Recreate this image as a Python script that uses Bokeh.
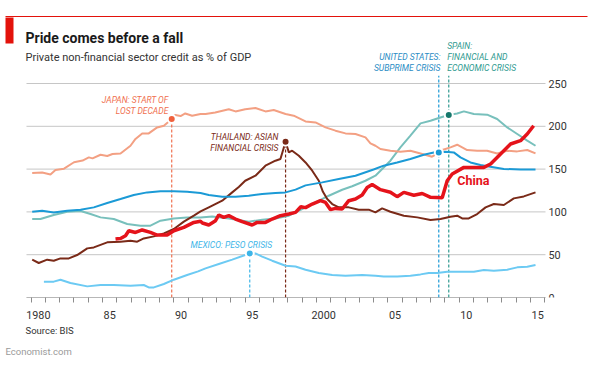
from bokeh.plotting import figure
from bokeh.models import Range1d, FixedTicker, Label, BoxAnnotation, CustomJSTickFormatter, Title
from bokeh.core.properties import value
from bokeh.embed import file_html
from bokeh.resources import INLINE

# ---------------- data ----------------
japan_x = [1980.07, 1980.77, 1981.35, 1981.7, 1982.3, 1983.0, 1983.6, 1984.04, 1984.3, 1984.86,
           1985.33, 1985.7, 1986.26, 1986.96, 1987.31, 1987.78, 1988.24, 1988.83, 1989.3, 1989.65,
           1989.85, 1990.1, 1990.47, 1990.8, 1991.28, 1991.87, 1992.22, 1992.9, 1993.85, 1994.32,
           1995.0, 1995.72, 1996.42, 1997.0, 1997.83, 1998.4, 1999.23, 1999.93, 2000.63, 2001.33,
           2002.03, 2002.73, 2003.43, 2003.78, 2004.13, 2004.48, 2005.18, 2005.88, 2006.58, 2007.29,
           2008.1, 2008.34, 2008.81, 2009.39, 2009.86, 2010.56, 2011.26, 2011.96, 2012.66, 2013.37,
           2014.07, 2014.77, 2015.35]
japan_y = [145.4, 146.0, 143.8, 149.0, 150.5, 158.0, 160.0, 163.7, 162.5, 166.8,
           165.3, 167.6, 168.3, 177.3, 185.2, 191.7, 191.7, 198.7, 200.7, 205.7,
           208.5, 213.2, 212.0, 215.0, 212.4, 214.4, 214.4, 216.2, 220.0, 217.4,
           220.0, 221.4, 217.4, 219.0, 214.4, 212.4, 205.7, 204.5, 198.7, 194.9,
           191.7, 191.0, 187.0, 180.0, 177.3, 173.5, 171.5, 170.3, 171.5, 168.3,
           164.5, 166.8, 172.3, 175.4, 178.5, 172.3, 171.5, 171.5, 168.3, 171.5,
           170.7, 172.3, 168.3]

thai_x = [1980.07, 1980.53, 1981.12, 1981.58, 1982.05, 1982.64, 1983.22, 1983.93, 1984.39, 1985.33,
          1986.26, 1986.96, 1987.43, 1987.89, 1988.6, 1989.3, 1990.0, 1990.7, 1991.4, 1991.87,
          1992.45, 1993.39, 1994.09, 1994.55, 1995.0, 1995.72, 1996.42, 1997.12, 1997.47, 1997.83,
          1998.06, 1998.29, 1998.76, 1999.23, 1999.7, 2000.16, 2000.45, 2000.75, 2001.1, 2001.56,
          2002.26, 2002.96, 2003.66, 2004.13, 2004.6, 2005.18, 2006.12, 2007.06, 2007.99, 2008.69,
          2009.39, 2009.86, 2010.21, 2010.67, 2011.26, 2011.85, 2012.43, 2013.13, 2013.83, 2014.53,
          2015.35]
thai_y = [44.2, 40.3, 44.2, 43.0, 45.7, 45.7, 49.6, 57.4, 58.5, 64.4,
          65.2, 66.4, 65.2, 69.0, 71.4, 74.9, 80.0, 88.6, 95.6, 100.5,
          105.3, 113.1, 122.8, 129.0, 136.4, 142.3, 154.0, 159.8, 161.8, 182.0,
          169.5, 171.5, 165.6, 157.8, 148.1, 136.4, 123.5, 115.0, 109.2, 105.3,
          105.3, 102.6, 102.6, 99.4, 104.1, 100.2, 95.6, 93.6, 90.5, 91.7,
          94.4, 95.6, 92.4, 92.4, 97.5, 105.3, 109.2, 108.1, 115.8, 118.1,
          122.8]

us_x = [1980.07, 1980.77, 1981.58, 1982.52, 1983.46, 1984.39, 1985.33, 1986.26, 1987.19, 1988.13,
        1989.06, 1990.0, 1990.93, 1991.87, 1992.45, 1993.39, 1994.32, 1995.25, 1996.19, 1997.12,
        1997.83, 1998.53, 1999.23, 2000.4, 2001.56, 2002.73, 2004.0, 2004.71, 2005.65, 2006.58,
        2007.52, 2008.22, 2008.57, 2009.04, 2009.62, 2010.09, 2010.79, 2011.49, 2012.19, 2013.13,
        2014.3, 2015.35]
us_y = [100.2, 101.4, 99.4, 101.4, 102.6, 105.3, 110.4, 115.0, 119.7, 122.8,
        124.0, 124.0, 123.6, 122.0, 119.7, 117.8, 117.8, 118.9, 120.9, 122.0,
        122.8, 126.0, 131.0, 134.5, 138.4, 142.3, 149.5, 154.0, 157.8, 161.8,
        166.8, 169.5, 169.5, 170.3, 169.5, 163.7, 157.8, 154.8, 152.8, 150.1,
        149.6, 149.6]

spain_x = [1980.07, 1980.65, 1981.58, 1982.52, 1983.46, 1984.16, 1984.86, 1985.79, 1986.73, 1987.66,
           1988.36, 1989.06, 1990.0, 1990.93, 1991.87, 1992.69, 1993.85, 1995.25, 1996.19, 1997.12,
           1998.06, 1998.99, 1999.93, 2000.86, 2001.8, 2002.5, 2003.43, 2004.13, 2004.48, 2005.18,
           2005.88, 2006.58, 2007.29, 2007.99, 2008.57, 2009.25, 2009.86, 2010.33, 2011.03, 2011.96,
           2012.66, 2013.37, 2014.07, 2014.77, 2015.35]
spain_y = [91.7, 91.7, 96.4, 100.2, 101.0, 97.5, 93.6, 91.7, 85.9, 83.9,
           83.9, 89.7, 92.4, 93.6, 93.6, 94.7, 92.4, 88.6, 90.9, 92.4,
           95.6, 103.4, 111.1, 118.9, 125.9, 130.0, 136.4, 142.3, 148.0, 159.8,
           175.4, 189.0, 203.4, 206.5, 209.7, 213.2, 215.0, 217.4, 214.4, 213.6,
           208.5, 198.7, 191.0, 183.2, 177.3]

mexico_x = [1980.89, 1981.58, 1982.05, 1982.75, 1983.93, 1984.86, 1985.79, 1986.96, 1987.89, 1988.24,
            1988.6, 1989.3, 1990.0, 1990.93, 1991.7, 1992.22, 1993.15, 1994.09, 1995.0, 1995.32,
            1995.72, 1996.19, 1996.89, 1997.83, 1998.53, 1999.23, 2000.16, 2001.1, 2002.03, 2003.2,
            2004.13, 2004.71, 2005.65, 2006.58, 2007.29, 2007.87, 2008.46, 2009.16, 2010.09, 2011.03,
            2011.73, 2012.43, 2013.37, 2014.07, 2014.77, 2015.35]
mexico_y = [18.5, 18.5, 20.8, 16.9, 13.0, 14.6, 14.6, 13.8, 14.6, 11.8,
            11.8, 15.8, 20.8, 26.3, 30.5, 34.0, 39.1, 44.2, 49.6, 51.5,
            51.5, 47.7, 43.0, 37.1, 36.3, 32.5, 28.6, 26.3, 25.5, 26.3,
            25.5, 24.6, 24.6, 25.5, 27.0, 28.6, 28.6, 30.1, 30.1, 30.1,
            32.1, 31.3, 32.5, 35.2, 36.0, 38.0]

china_x = [1985.91, 1986.26, 1986.61, 1986.84, 1987.31, 1987.78, 1988.36, 1988.83, 1989.53, 1990.0,
           1990.7, 1991.4, 1991.87, 1992.0, 1992.45, 1992.92, 1993.15, 1993.5, 1993.85, 1994.32,
           1994.79, 1995.49, 1995.84, 1996.42, 1996.89, 1997.47, 1998.06, 1998.53, 1998.9, 1999.23,
           1999.7, 2000.28, 2000.63, 2000.98, 2001.33, 2001.8, 2002.26, 2002.73, 2003.2, 2003.55,
           2003.9, 2004.48, 2005.18, 2005.65, 2006.12, 2006.82, 2007.41, 2008.0, 2008.81, 2009.16,
           2009.51, 2010.33, 2011.03, 2011.73, 2012.2, 2012.9, 2013.6, 2014.3, 2014.77, 2015.22]
china_y = [68.3, 69.0, 72.2, 78.0, 76.0, 78.9, 76.0, 73.0, 73.0, 78.0,
           81.9, 87.7, 89.0, 87.0, 84.7, 89.7, 96.4, 93.6, 95.6, 91.7,
           88.6, 84.7, 87.7, 87.7, 91.7, 95.6, 97.5, 99.4, 106.0, 105.0,
           109.2, 113.1, 111.1, 102.6, 104.1, 103.4, 113.1, 115.0, 119.7, 128.6,
           132.0, 126.0, 123.0, 117.8, 122.8, 119.5, 121.5, 117.0, 116.5, 136.4,
           144.3, 152.0, 152.0, 152.0, 156.0, 167.6, 179.3, 183.2, 191.0, 200.7]

# crisis markers: year, value of the dot, top of the dashed line
crisis_names = ["Japan", "Thailand", "Mexico", "United States", "Spain"]
crisis_x = [1989.85, 1997.83, 1995.32, 2008.57, 2009.27]
crisis_y = [208.5, 182.0, 51.5, 169.5, 213.2]
crisis_top = [208.5, 182.0, 51.5, 259.0, 259.0]

y_ticks = [0, 50, 100, 150, 200, 250]
y_tick_labels = ["0", "50", "100", "150", "200", "250"]
year_ticks = list(range(1980, 2017))
label_years = [1980, 1985, 1990, 1995, 2000, 2005, 2010, 2015]
x_first, x_last = 1979.67, 2016.05   # extent of the axis and gridlines

# ---------------- colours ----------------
C_JAPAN, C_JAPAN_T = "#f3a083", "#f0704f"
C_THAI = "#7a2a18"
C_US, C_US_T = "#1b9ad6", "#2a8cc4"
C_SPAIN, C_SPAIN_T = "#78c0bc", "#2e9a90"
C_MEX, C_MEX_T = "#6ccaf3", "#3db5e8"
C_CHINA = "#e5131b"
C_RED = "#e3120b"

# ---------------- geometry (page pixels -> data) ----------------
W, H = 600, 367
PX_PER_YEAR = 14.266
X1980 = 30.7          # page x of the 1980 tick
FY1 = 297             # page y of the zero line
PX_PER_UNIT = 0.856


def DX(px):
    return 1980 + (px - X1980) / PX_PER_YEAR


def DY(py):
    return (FY1 - py) / PX_PER_UNIT


p = figure(width=W, height=H, x_range=Range1d(DX(0), DX(W)), y_range=Range1d(0, DY(0)),
           output_backend="svg", toolbar_location=None, y_axis_location=None,
           min_border_left=0, min_border_right=0, min_border_top=0,
           min_border_bottom=H - FY1)
p.title.visible = False
p.outline_line_color = None
p.background_fill_color = "white"
p.border_fill_color = "white"
p.xgrid.visible = False
p.ygrid.visible = False

# x axis (ticks at every year, labels centred on the year)
p.xaxis.ticker = FixedTicker(ticks=[y + 0.5 for y in label_years], minor_ticks=year_ticks)
p.xaxis.formatter = CustomJSTickFormatter(code="""
const y = Math.floor(tick);
if (y == 1980 || y == 2000) return String(y);
return String(y % 100).padStart(2, '0');
""")
p.xaxis.axis_line_color = None
p.xaxis.major_tick_out = 0
p.xaxis.major_tick_in = 0
p.xaxis.minor_tick_out = 5
p.xaxis.minor_tick_in = 0
p.xaxis.minor_tick_line_color = "#8c8c8c"
p.xaxis.major_label_standoff = 8
p.xaxis.major_label_text_font = "Roboto"
p.xaxis.major_label_text_font_size = "10.8px"
p.xaxis.major_label_text_color = "#333333"

# horizontal gridlines and right-hand value labels
p.segment(x0=[x_first] * len(y_ticks), x1=[x_last] * len(y_ticks), y0=y_ticks, y1=y_ticks,
          line_color="#c6c6c6", line_width=1)
p.segment(x0=[x_first], x1=[x_last], y0=[0], y1=[0], line_color="#8c8c8c", line_width=1)
p.text(x=[DX(548)] * len(y_ticks), y=y_ticks, text=y_tick_labels, text_font=value("Roboto"),
       text_font_size="10.8px", text_color="#333333", text_baseline="middle", text_align="left")

# dashed crisis lines
crisis_cols = [C_JAPAN_T, C_THAI, C_MEX_T, C_US, C_SPAIN_T]
p.segment(x0=crisis_x, y0=[0] * 5, x1=crisis_x, y1=crisis_top, line_color=crisis_cols,
          line_width=1.2, line_dash="3 2")

# series
p.line(mexico_x, mexico_y, line_color=C_MEX, line_width=2)
p.line(spain_x, spain_y, line_color=C_SPAIN, line_width=2)
p.line(japan_x, japan_y, line_color=C_JAPAN, line_width=2)
p.line(thai_x, thai_y, line_color=C_THAI, line_width=2)
p.line(us_x, us_y, line_color=C_US, line_width=2)
p.line(china_x, china_y, line_color=C_CHINA, line_width=3.5)

# crisis dots
dot_cols = ["#f0603c", C_THAI, "#3db5e8", "#1b9ad6", "#17786c"]
p.scatter(crisis_x, crisis_y, size=8, fill_color=dot_cols, line_color="white", line_width=2)

FONT = "Roboto"


def lab(px, py, text, color, size="8.5px", align="left", style="italic"):
    p.add_layout(Label(x=DX(px), y=DY(py), text=text, text_color=color, text_font=FONT,
                       text_font_size=size, text_font_style=style, text_align=align,
                       text_baseline="middle"))


# annotations
lab(168, 99, "JAPAN: START OF", C_JAPAN_T, align="right")
lab(168, 110.7, "LOST DECADE", C_JAPAN_T, align="right")
lab(278, 136.7, "THAILAND: ASIAN", C_THAI, align="right")
lab(278, 147.7, "FINANCIAL CRISIS", C_THAI, align="right")
lab(190, 244.3, "MEXICO: PESO CRISIS", C_MEX_T)
lab(440, 56.7, "UNITED STATES:", C_US_T, align="right")
lab(440, 67.7, "SUBPRIME CRISIS", C_US_T, align="right")
lab(446.7, 45, "SPAIN:", C_SPAIN_T)
lab(446.7, 56.7, "FINANCIAL AND", C_SPAIN_T)
lab(446.7, 67.7, "ECONOMIC CRISIS", C_SPAIN_T)
lab(456.7, 180, "China", C_CHINA, size="12.5px", style="bold")

# header
p.add_layout(BoxAnnotation(left=DX(5), right=DX(587), top=DY(15.5), bottom=DY(16.5),
                           fill_color=C_RED, fill_alpha=1, line_color=None))
p.add_layout(BoxAnnotation(left=DX(5), right=DX(13), top=DY(17), bottom=DY(43),
                           fill_color=C_RED, fill_alpha=1, line_color=None))
lab(25, 37.5, "Pride comes before a fall", "#1a1a1a", size="14px", style="bold")
lab(25, 57, "Private non-financial sector credit as % of GDP", "#333333", size="11px", style="normal")

# footer (below the axis)
p.add_layout(Title(text="Source: BIS", align="left", offset=25, text_font=FONT,
                   text_font_size="9.5px", text_font_style="normal", text_color="#333333",
                   standoff=2), "below")
p.add_layout(Title(text="Economist.com", align="left", offset=5, text_font=FONT,
                   text_font_size="9.5px", text_font_style="normal", text_color="#9a9a9a",
                   standoff=14), "below")

open("out.html", "w").write(file_html(p, INLINE))
